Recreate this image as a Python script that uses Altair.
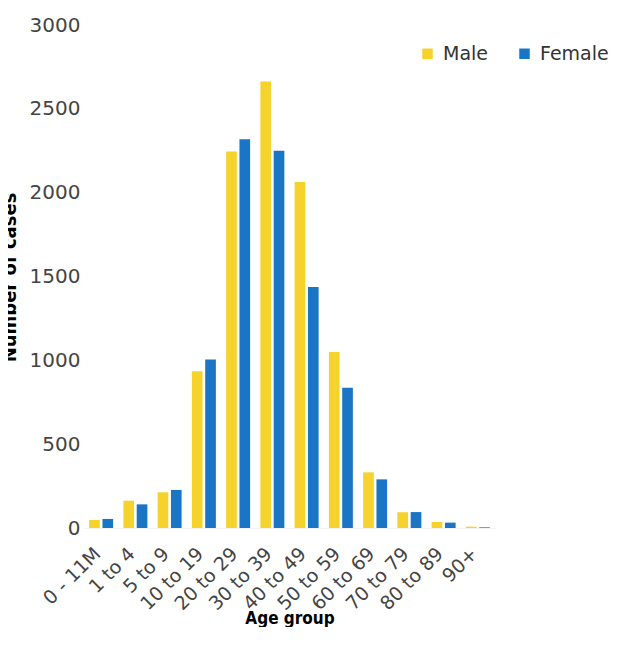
import altair as alt
import pandas as pd

ages = ["0 - 11M", "1 to 4", "5 to 9", "10 to 19", "20 to 29", "30 to 39",
        "40 to 49", "50 to 59", "60 to 69", "70 to 79", "80 to 89", "90+"]
male = [48, 163, 213, 935, 2246, 2663, 2064, 1050, 332, 94, 36, 8]
female = [54, 141, 227, 1005, 2319, 2250, 1437, 837, 290, 95, 32, 4]
sexes = ["Male", "Female"]
colors = ["#F5D22C", "#1A75C4"]
y_ticks = [0, 500, 1000, 1500, 2000, 2500, 3000]

rows = []
for a, m, f in zip(ages, male, female):
    rows.append({"age": a, "sex": "Male", "count": m})
    rows.append({"age": a, "sex": "Female", "count": f})
df = pd.DataFrame(rows)

chart = alt.Chart(df).mark_bar().encode(
    x=alt.X("age:N", sort=ages,
            scale=alt.Scale(paddingInner=0.3, paddingOuter=0.15),
            axis=alt.Axis(labelAngle=-45, labelFontSize=19, labelFont="DejaVu Sans",
                          labelColor="#444444", labelPadding=16, labelOffset=-10,
                          ticks=False, domain=True, domainColor="#f2f2f2",
                          title="Age group", titleFontSize=17,
                          titleFont="DejaVu Sans Condensed, Liberation Sans Narrow, DejaVu Sans",
                          titleFontWeight="bold", titleColor="#000000",
                          titleY=95, titleBaseline="alphabetic")),
    xOffset=alt.XOffset("sex:N", sort=sexes,
                        scale=alt.Scale(paddingInner=0.2, paddingOuter=0)),
    y=alt.Y("count:Q", scale=alt.Scale(domain=[0, 3000], nice=False),
            axis=alt.Axis(values=y_ticks, format="d", grid=False, domain=False,
                          ticks=False, labelFontSize=20, labelFont="DejaVu Sans",
                          labelColor="#444444", labelPadding=4,
                          title="Number of cases", titleFontSize=20,
                          titleFont="DejaVu Sans Condensed, Liberation Sans Narrow, DejaVu Sans",
                          titleFontWeight="bold", titleColor="#000000",
                          titleX=-69, titleY=252, titleAngle=-90,
                          titleBaseline="alphabetic", titleAlign="center")),
    color=alt.Color("sex:N", sort=sexes,
                    scale=alt.Scale(domain=sexes, range=colors),
                    legend=alt.Legend(orient="none", legendX=334, legendY=19,
                                      direction="horizontal", title=None,
                                      symbolType="square", symbolSize=110,
                                      symbolStrokeWidth=0,
                                      labelFontSize=19, labelFont="DejaVu Sans",
                                      labelColor="#333333", labelOffset=6,
                                      columnPadding=26, padding=0)),
).properties(
    width=411, height=503,
    autosize=alt.AutoSizeParams(type="none"),
    padding={"left": 76, "top": 17, "right": 116, "bottom": 99},
).configure_view(stroke=None)

chart.save("out.html", embed_options={"renderer": "svg", "actions": False})
